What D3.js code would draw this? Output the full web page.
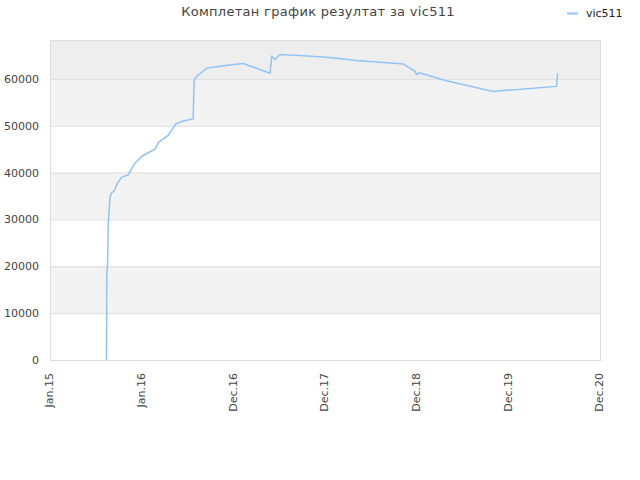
<!DOCTYPE html>
<html>
<head>
<meta charset="utf-8">
<script src="https://cdn.jsdelivr.net/npm/d3@7"></script>
<style>
    body { margin: 0; background: #fff; }
    svg { font-family: "DejaVu Sans", sans-serif; }
</style>
</head>
<body>
<div id="chart"></div>
<script>
    var seriesName = "vic511";
    var titleText = "Комплетан график резултат за vic511";

    // date of each result, and the running total
    var dates = [
        "2015-08-14", "2015-08-15", "2015-08-18", "2015-08-21", "2015-08-28", "2015-09-03",
        "2015-09-16", "2015-09-26", "2015-10-13", "2015-11-08", "2015-12-05", "2016-01-05",
        "2016-02-23", "2016-03-07", "2016-04-16", "2016-05-16", "2016-06-08", "2016-07-24",
        "2016-07-28", "2016-08-07", "2016-09-16", "2016-10-25", "2016-12-24", "2017-02-08",
        "2017-05-26", "2017-06-02", "2017-06-15", "2017-07-05", "2017-09-22", "2018-01-06",
        "2018-05-06", "2018-08-20", "2018-11-08", "2018-12-24", "2018-12-31", "2019-01-10",
        "2019-04-29", "2019-10-31", "2019-12-10", "2020-07-10", "2020-07-14"
    ];
    var scores = [
        0, 18500, 19900, 29200, 34900, 35600,
        36300, 37700, 39000, 39500, 42000, 43600,
        45000, 46400, 48000, 50400, 50900, 51500,
        59800, 60500, 62300, 62600, 63000, 63300,
        61200, 64800, 64200, 65200, 65000, 64600,
        63900, 63500, 63200, 61600, 60900, 61300,
        59600, 57300, 57500, 58400, 61200
    ];

    var xTickDates = ["2015-01-01", "2016-01-01", "2016-12-31", "2017-12-31", "2018-12-31", "2019-12-31", "2020-12-30"];
    var xTickLabels = ["Jan.15", "Jan.16", "Dec.16", "Dec.17", "Dec.18", "Dec.19", "Dec.20"];
    var yTicks = [0, 10000, 20000, 30000, 40000, 50000, 60000];
    var yMax = 68300;

    var width = 640, height = 480;
    var margin = { top: 40, right: 40, bottom: 120, left: 50 };
    var innerW = width - margin.left - margin.right;
    var innerH = height - margin.top - margin.bottom;

    var parse = d3.utcParse("%Y-%m-%d");
    var points = dates.map(function (d, i) { return { date: parse(d), value: scores[i] }; });

    var x = d3.scaleUtc()
        .domain([parse(xTickDates[0]), parse(xTickDates[xTickDates.length - 1])])
        .range([0, innerW]);
    var y = d3.scaleLinear().domain([0, yMax]).range([innerH, 0]);

    var svg = d3.select("#chart").append("svg")
        .attr("width", width)
        .attr("height", height);

    var g = svg.append("g").attr("transform", "translate(" + margin.left + "," + margin.top + ")");

    // background bands
    var bands = yTicks.map(function (t, i) {
        var top = i + 1 < yTicks.length ? yTicks[i + 1] : yMax;
        return { from: t, to: top, i: i };
    });
    g.selectAll(".band")
        .data(bands)
        .enter().append("rect")
        .attr("x", 0)
        .attr("width", innerW)
        .attr("y", function (d) { return y(d.to); })
        .attr("height", function (d) { return y(d.from) - y(d.to); })
        .attr("fill", function (d) {
            if (d.i === bands.length - 1) return "#eeeeee";
            return d.i % 2 === 1 ? "#f3f3f3" : "#ffffff";
        });

    // grid lines
    g.selectAll(".grid")
        .data(yTicks)
        .enter().append("line")
        .attr("x1", 0).attr("x2", innerW)
        .attr("y1", function (d) { return y(d) + 0.5; })
        .attr("y2", function (d) { return y(d) + 0.5; })
        .attr("stroke", "#dddddd");

    g.append("rect")
        .attr("x", 0.5).attr("y", 0.5)
        .attr("width", innerW).attr("height", innerH)
        .attr("fill", "none")
        .attr("stroke", "#dddddd");

    // y axis labels
    var yAxis = d3.axisLeft(y).tickValues(yTicks).tickSize(0).tickPadding(11).tickFormat(d3.format("d"));
    g.append("g").call(yAxis)
        .call(function (s) { s.select(".domain").remove(); })
        .selectAll("text")
        .attr("font-size", "11px")
        .attr("font-family", "DejaVu Sans, sans-serif")
        .attr("fill", "#444");

    // x axis labels, rotated
    var xAxis = d3.axisBottom(x)
        .tickValues(xTickDates.map(parse))
        .tickSize(0)
        .tickFormat(function (d, i) { return xTickLabels[i]; });
    g.append("g")
        .attr("transform", "translate(0," + innerH + ")")
        .call(xAxis)
        .call(function (s) { s.select(".domain").remove(); })
        .selectAll("text")
        .attr("font-size", "11px")
        .attr("font-family", "DejaVu Sans, sans-serif")
        .attr("fill", "#444")
        .attr("text-anchor", "end")
        .attr("y", 0)
        .attr("dy", "0.35em")
        .attr("transform", "translate(-1,13) rotate(-90)");

    var line = d3.line()
        .x(function (d) { return x(d.date); })
        .y(function (d) { return y(d.value); });

    g.append("path")
        .datum(points)
        .attr("fill", "none")
        .attr("stroke", "#92c3f4")
        .attr("stroke-width", 1.5)
        .attr("d", line);

    // title
    svg.append("text")
        .attr("x", 318)
        .attr("y", 16)
        .attr("text-anchor", "middle")
        .attr("font-size", "13px")
        .attr("fill", "#444")
        .attr("letter-spacing", "0.3px")
        .text(titleText);

    // legend
    var legend = svg.append("g").attr("transform", "translate(567,13)");
    legend.append("line")
        .attr("x1", 0).attr("x2", 11)
        .attr("y1", 0.5).attr("y2", 0.5)
        .attr("stroke", "#92c3f4")
        .attr("stroke-width", 2);
    legend.append("text")
        .attr("x", 19)
        .attr("y", 4)
        .attr("font-size", "11px")
        .attr("fill", "#222")
        .text(seriesName);
</script>
</body>
</html>
